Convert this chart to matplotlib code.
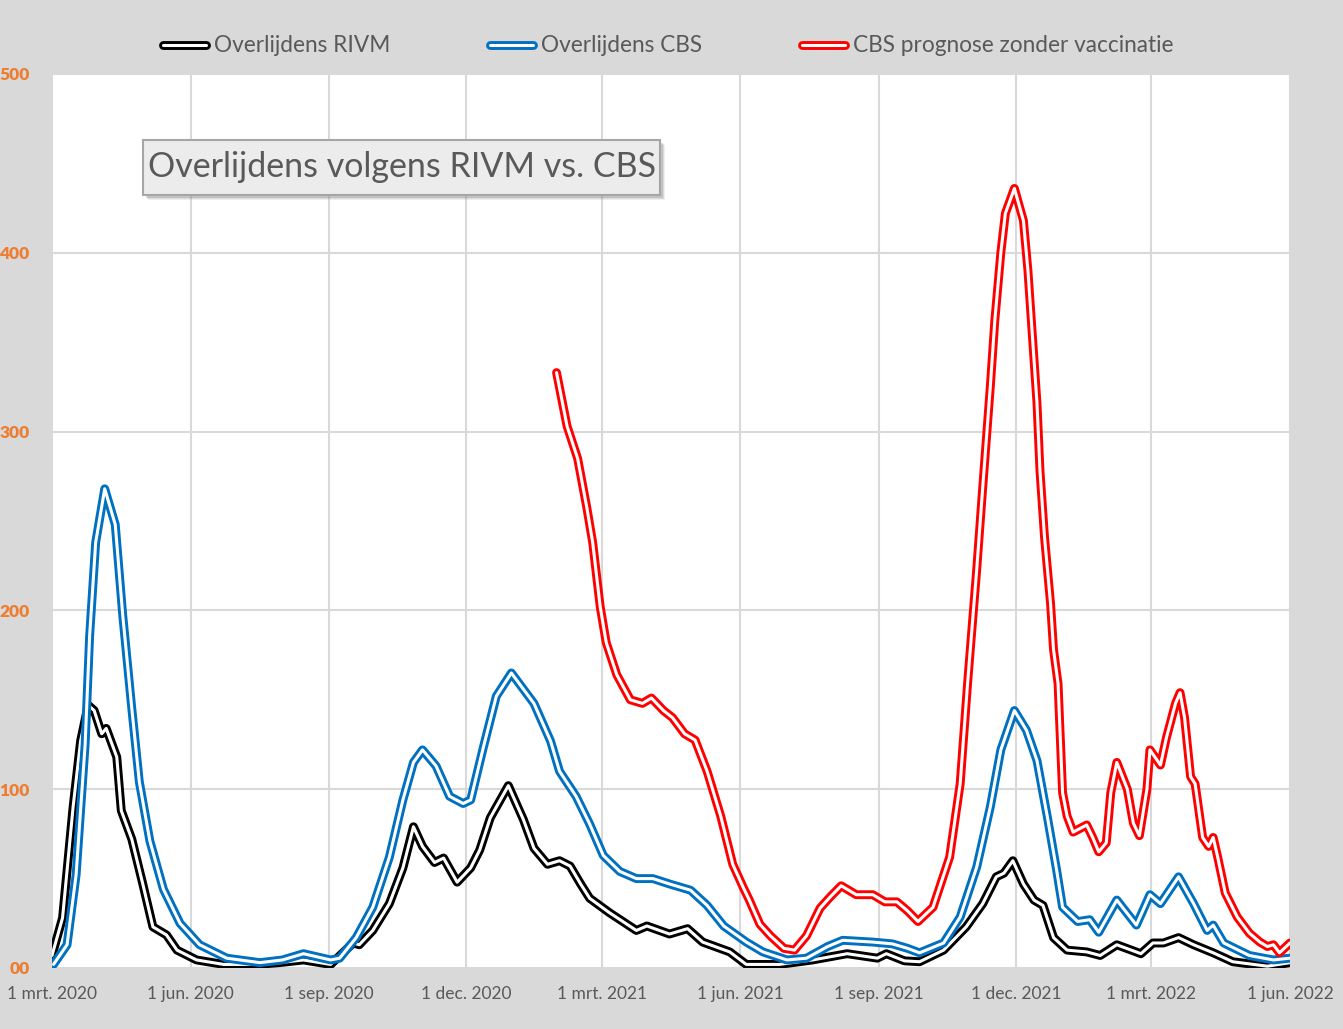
import pandas as pd
import matplotlib
matplotlib.use("Agg")
import matplotlib.pyplot as plt
from matplotlib.lines import Line2D
from matplotlib.patches import Rectangle

# days since 1 mrt. 2020, daily deaths (7-day average)
start = pd.Timestamp("2020-03-01")

rivm_days = [0, 7, 14, 19, 24, 28, 33, 36, 43, 46, 53, 60, 67, 76, 83, 96, 114, 136, 151, 167,
             185, 200, 204, 213, 224, 233, 240, 246, 254, 260, 269, 278, 284, 291, 303, 313, 320,
             329, 337, 344, 351, 357, 370, 388, 395, 410, 422, 432, 450, 461, 483, 505, 528, 548,
             554, 566, 576, 592, 607, 618, 627, 632, 638, 645, 652, 658, 665, 674, 687, 696, 707,
             723, 731, 738, 748, 758, 771, 784, 807, 822]
rivm_vals = [7, 28, 90, 127, 147, 144, 131, 134, 118, 88, 72, 48, 23, 18.5, 10, 4.5, 2, 2, 3, 4.5,
             2, 14, 13, 21, 36, 56, 79, 68, 59, 61.5, 48, 56, 66, 84, 102, 83, 67,
             58, 60, 57, 47, 39, 31, 21, 23.5, 19, 22, 14.5, 9, 2, 2, 4.5, 8, 5.5,
             8, 4, 3.5, 10, 23, 36, 51, 53, 60, 47, 38, 35, 17, 10, 9, 7, 13,
             8, 14, 14, 17, 13, 8.5, 3.5, 1, 3]

cbs_days = [1, 10, 16, 22, 25, 29, 35, 42, 47, 53, 58, 65, 74, 85, 98, 116, 138, 153, 167, 185,
            191, 202, 213, 224, 233, 240, 246, 255, 264, 273, 278, 286, 295, 305, 320, 331, 337,
            348, 357, 366, 377, 388, 399, 410, 424, 435, 446, 461, 472, 488, 501, 515, 525, 545,
            558, 568, 576, 592, 603, 614, 623, 630, 639, 647, 654, 661, 667, 671, 681, 689, 695,
            707, 720, 729, 736, 748, 758, 767, 771, 778, 795, 811, 822]
cbs_vals = [2, 13, 52, 125, 186, 238, 268, 248, 197, 145, 104, 71, 44, 25, 13, 5.5, 3, 4.5, 8, 4.5,
            5.5, 17, 34, 62, 94, 115, 122, 113, 96, 92, 94, 122, 152, 165, 148, 127, 110,
            96, 80.5, 63, 54, 50, 50, 47, 43.5, 35, 23.5, 14.5, 9, 4.5, 5.5, 12, 15.5, 14.5,
            13.5, 11, 8.5, 14, 28.5, 56.5, 90, 122, 144, 133, 116, 84, 55, 34, 26, 27, 20,
            38, 24, 41, 36, 51, 36, 21, 24, 14, 7, 4.5, 5.5]

prog_days = [335, 342, 349, 355, 359, 364, 368, 375, 384, 392, 398, 406, 412, 420, 427, 435, 444,
             452, 459, 463, 470, 477, 486, 493, 501, 510, 517, 524, 534, 545, 553, 561, 568, 575,
             585, 596, 603, 608, 614, 618, 623, 626, 630, 633, 639, 645, 648, 651, 654, 656, 659,
             663, 665, 668, 671, 674, 678, 687, 691, 695, 700, 703, 707, 714, 718, 722, 727, 729,
             736, 740, 746, 749, 752, 756, 759, 764, 768, 771, 774, 779, 787, 795, 802, 807, 811,
             815, 822]
prog_vals = [333, 303, 285, 258, 238, 202, 182, 164, 150, 148, 151, 144, 140, 131, 127.5, 110, 85,
             58, 45, 38, 24.5, 18, 11, 10, 18, 33.5, 40, 46, 41, 41, 37, 37, 32, 26,
             34, 62, 103, 160, 223, 269, 325, 362, 400, 422, 436, 418, 390, 353, 316, 278, 241,
             204, 178, 159, 98, 85, 76, 80, 73, 65, 70, 98, 115, 100, 81, 74, 100, 122,
             113.5, 129, 148, 154, 140, 107, 103, 73, 68, 73, 62, 42, 28.5, 19.5, 14.5, 12, 13,
             8.5, 14]

tick_dates = ["2020-03-01", "2020-06-01", "2020-09-01", "2020-12-01", "2021-03-01",
              "2021-06-01", "2021-09-01", "2021-12-01", "2022-03-01", "2022-06-01"]
tick_labels = ["1 mrt. 2020", "1 jun. 2020", "1 sep. 2020", "1 dec. 2020", "1 mrt. 2021",
               "1 jun. 2021", "1 sep. 2021", "1 dec. 2021", "1 mrt. 2022", "1 jun. 2022"]
y_ticks = [0, 100, 200, 300, 400, 500]
y_labels = ["00", "100", "200", "300", "400", "500"]

series = [
    ("Overlijdens RIVM", rivm_days, rivm_vals, "#000000"),
    ("Overlijdens CBS", cbs_days, cbs_vals, "#0070c0"),
    ("CBS prognose zonder vaccinatie", prog_days, prog_vals, "#ff0000"),
]

plt.rcParams['font.family'] = ['Lato', 'DejaVu Sans']

fig = plt.figure(figsize=(13.43, 10.29), dpi=100, facecolor="#d9d9d9")
ax = fig.add_axes([52 / 1343, 61 / 1029, 1238 / 1343, 894 / 1029])
ax.set_facecolor("white")

outer_lw, inner_lw = 6.4, 2.2
handles = []
for name, days, vals, color in series:
    dates = start + pd.to_timedelta(days, unit="D")
    ax.plot(dates, vals, color=color, lw=outer_lw, solid_joinstyle="round",
            solid_capstyle="round", zorder=3)
    ax.plot(dates, vals, color="white", lw=inner_lw, solid_joinstyle="round",
            solid_capstyle="round", zorder=3)
    h = (Line2D([], [], color=color, lw=outer_lw, solid_capstyle="round"),
         Line2D([], [], color="white", lw=inner_lw, solid_capstyle="round"))
    handles.append((h, name))

ax.set_xlim(pd.Timestamp("2020-03-01"), pd.Timestamp("2022-06-01"))
ax.set_ylim(0, 500)
ax.set_xticks(pd.to_datetime(tick_dates))
ax.set_xticklabels(tick_labels)
ax.set_yticks(y_ticks)
ax.set_yticklabels(y_labels)
ax.tick_params(axis="x", length=0, pad=13, labelsize=12.5, labelcolor="#595959")
ax.tick_params(axis="y", length=0, pad=16, labelsize=12.5, labelcolor="#ed7d31")
for lab in ax.get_yticklabels():
    lab.set_fontweight("heavy")
ax.grid(True, color="#d9d9d9", lw=1.5)
ax.set_axisbelow(True)
for s in ax.spines.values():
    s.set_visible(False)

fig.legend([h for h, _ in handles], [n for _, n in handles], loc="center",
           bbox_to_anchor=(668 / 1343, 1 - 46 / 1029), ncol=3, frameon=False,
           fontsize=16.3, handlelength=1.9, handletextpad=0.35, columnspacing=4.4,
           labelcolor="#595959")

# title box with shadow
bx, by, bw, bh = 143 / 1343, 1 - 195 / 1029, 517 / 1343, 55 / 1029
for i, a in enumerate([0.12, 0.18, 0.25]):
    off = (5 - i) / 1343
    fig.patches.append(Rectangle((bx + off, by - (5 - i) / 1029), bw, bh,
                                 transform=fig.transFigure, facecolor="#808080",
                                 edgecolor="none", alpha=a, zorder=4))
fig.patches.append(Rectangle((bx, by), bw, bh, transform=fig.transFigure,
                             facecolor="#ececec", edgecolor="#a6a6a6", lw=1.5, zorder=5))
fig.text(bx + bw / 2, by + bh / 2, "Overlijdens volgens RIVM vs. CBS", ha="center",
         va="center", fontsize=24.5, color="#595959", zorder=6)

fig.savefig("out.png", dpi=100, facecolor=fig.get_facecolor())
